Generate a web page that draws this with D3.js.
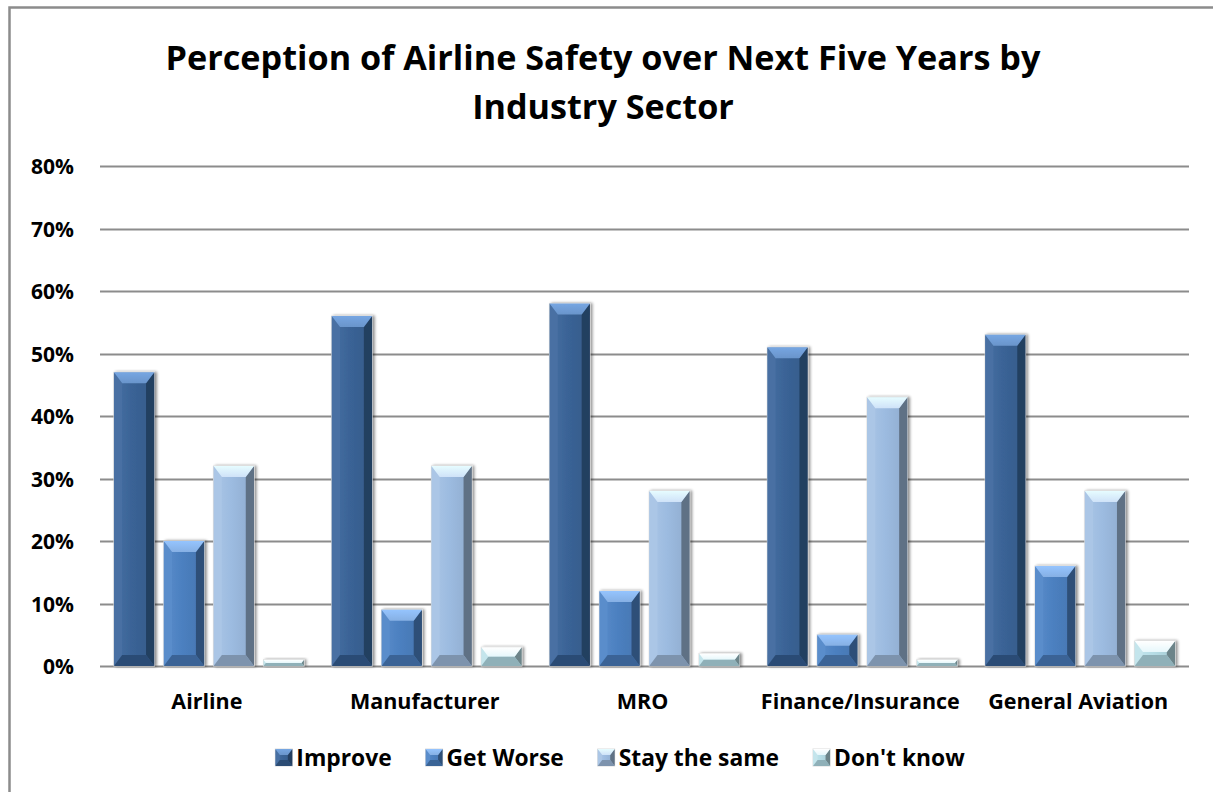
<!DOCTYPE html>
<html>
<head>
<meta charset="utf-8">
<script src="https://cdnjs.cloudflare.com/ajax/libs/d3/7.8.5/d3.min.js"></script>
<style>
  html, body { margin: 0; padding: 0; background: #fff; }
  svg { display: block; }
  text { font-family: "Open Sans", "Noto Sans", sans-serif; font-weight: bold; fill: #000; }
</style>
</head>
<body>
<svg id="chart" width="1213" height="792"></svg>
<script>
// Survey results by industry sector (percent of respondents)
const categories = ["Airline", "Manufacturer", "MRO", "Finance/Insurance", "General Aviation"];
const seriesNames = ["Improve", "Get Worse", "Stay the same", "Don't know"];
const improve   = [47, 56, 58, 51, 53];
const getWorse  = [20, 9, 12, 5, 16];
const staySame  = [32, 32, 28, 43, 28];
const dontKnow  = [1, 3, 2, 1, 4];
const yTicks = [0, 10, 20, 30, 40, 50, 60, 70, 80];
const titleLines = ["Perception of Airline Safety over Next Five Years by", "Industry Sector"];

const seriesValues = [improve, getWorse, staySame, dontKnow];
// face, top highlight, bottom shade, left edge, right edge
const palette = [
  { face: "#3a6396", top: "#6a95cb", bottom: "#2c4c74", left: "#4870a3", right: "#243f61" },
  { face: "#4c80c0", top: "#86b0e4", bottom: "#3a6496", left: "#5a8dcb", right: "#2f5078" },
  { face: "#9cbbe0", top: "#cfe2f8", bottom: "#7d93ad", left: "#abc6e6", right: "#5f7185" },
  { face: "#b6dde6", top: "#e6f7fb", bottom: "#8fb0b8", left: "#c4e5ec", right: "#6c8489" }
];

const svg = d3.select("#chart");
const W = 1213, H = 792;
const plot = { left: 100, right: 1189, top: 166, bottom: 666 };

// outer frame
svg.append("rect")
  .attr("x", 9.5).attr("y", 7.5)
  .attr("width", W).attr("height", H)
  .attr("fill", "#fff").attr("stroke", "#8c8c8c").attr("stroke-width", 2.5);

// title
svg.append("text")
  .attr("x", 603).attr("text-anchor", "middle")
  .style("font-size", "34.2px")
  .selectAll("tspan").data(titleLines).join("tspan")
  .attr("x", 603)
  .attr("y", (d, i) => 70 + i * 49)
  .text(d => d);

const y = d3.scaleLinear().domain([0, 80]).range([plot.bottom, plot.top]);
const x0 = d3.scaleBand().domain(categories).range([plot.left, plot.right]).paddingInner(0).paddingOuter(0);
const groupPad = x0.bandwidth() * 0.064;
const x1 = d3.scaleBand().domain(seriesNames)
  .range([groupPad, x0.bandwidth() - groupPad]).paddingInner(0.19).paddingOuter(0);

// gridlines
const grid = svg.append("g");
grid.selectAll("line").data(yTicks).join("line")
  .attr("x1", plot.left).attr("x2", plot.right)
  .attr("y1", d => Math.round(y(d)) + 0.5).attr("y2", d => Math.round(y(d)) + 0.5)
  .attr("stroke", "#8c8c8c").attr("stroke-width", 2);

const labelStyle = (sel, size) => sel.style("font-size", size)
  .style("font-family", "'Open Sans', 'Noto Sans', sans-serif")
  .style("font-weight", "bold").attr("fill", "#000");

// y axis labels
const yAxis = d3.axisLeft(y).tickValues(yTicks).tickSize(0).tickPadding(0)
  .tickFormat(d => d + "%");
svg.append("g").attr("transform", `translate(74,0)`).call(yAxis)
  .call(g => g.select(".domain").remove())
  .call(g => labelStyle(g.selectAll("text"), "21px").attr("dy", "0.36em"));

// category labels
const xAxis = d3.axisBottom(x0).tickSize(0).tickPadding(0);
svg.append("g").attr("transform", `translate(-2,709)`).call(xAxis)
  .call(g => g.select(".domain").remove())
  .call(g => labelStyle(g.selectAll("text"), "21.5px").attr("dy", 0));

// shadow filter
const defs = svg.append("defs");
const f = defs.append("filter").attr("id", "shadow").attr("x", "-30%").attr("y", "-30%").attr("width", "160%").attr("height", "160%");
f.append("feGaussianBlur").attr("in", "SourceAlpha").attr("stdDeviation", 1.6).attr("result", "b");
f.append("feOffset").attr("in", "b").attr("dx", 1.5).attr("dy", 0).attr("result", "o");
f.append("feComponentTransfer").attr("in", "o").attr("result", "s")
  .append("feFuncA").attr("type", "linear").attr("slope", 0.45);
const m = f.append("feMerge");
m.append("feMergeNode").attr("in", "s");
m.append("feMergeNode").attr("in", "SourceGraphic");

// gradients for the top bevel and the face
palette.forEach((p, i) => {
  const g = defs.append("linearGradient").attr("id", "topg" + i).attr("x1", 0).attr("y1", 0).attr("x2", 0).attr("y2", 1);
  g.append("stop").attr("offset", "0%").attr("stop-color", d3.color(p.top).brighter(0.3));
  g.append("stop").attr("offset", "100%").attr("stop-color", p.top);
  const h = defs.append("linearGradient").attr("id", "faceg" + i).attr("x1", 0).attr("y1", 0).attr("x2", 1).attr("y2", 0);
  h.append("stop").attr("offset", "0%").attr("stop-color", p.left);
  h.append("stop").attr("offset", "45%").attr("stop-color", p.face);
  h.append("stop").attr("offset", "100%").attr("stop-color", d3.color(p.face).darker(0.25));
});

// draws a bevelled column into group g
function bevelBar(g, bx, by, bw, bh, si, bevel) {
  const p = palette[si];
  const b = Math.min(bevel, bh / 2, bw / 2);
  const sb = Math.min(b * 0.75, bw / 2);
  const x2 = bx + bw, y2 = by + bh;
  const poly = pts => pts.map(q => q.join(",")).join(" ");
  g.append("rect").attr("x", bx).attr("y", by).attr("width", bw).attr("height", bh)
    .attr("fill", `url(#faceg${si})`).attr("stroke", "#dcdcdc").attr("stroke-width", 1);
  g.append("polygon").attr("points", poly([[bx, by], [bx + sb, by + b], [bx + sb, y2 - b], [bx, y2]])).attr("fill", p.left);
  g.append("polygon").attr("points", poly([[x2, by], [x2 - sb, by + b], [x2 - sb, y2 - b], [x2, y2]])).attr("fill", p.right);
  g.append("polygon").attr("points", poly([[bx, by], [x2, by], [x2 - sb, by + b], [bx + sb, by + b]])).attr("fill", `url(#topg${si})`);
  g.append("polygon").attr("points", poly([[bx, y2], [x2, y2], [x2 - sb, y2 - b], [bx + sb, y2 - b]])).attr("fill", p.bottom);
}

// bars
const barsG = svg.append("g");
categories.forEach((cat, ci) => {
  seriesNames.forEach((s, si) => {
    const v = seriesValues[si][ci];
    const bx = x0(cat) + x1(s);
    const by = y(v);
    const bh = y(0) - y(v);
    const g = barsG.append("g").attr("filter", "url(#shadow)");
    bevelBar(g, bx, by, x1.bandwidth(), bh, si, 11);
  });
});

// legend, laid out from the text widths and centred under the plot
const legendG = svg.append("g");
let cursor = 0;
seriesNames.forEach((name, i) => {
  const g = legendG.append("g");
  bevelBar(g, cursor, 749, 17, 17, i, 6);
  const t = g.append("text").attr("x", cursor + 21).attr("y", 766).style("font-size", "22.8px").text(name);
  const w = t.node().getComputedTextLength();
  cursor = cursor + 21 + w + (i < seriesNames.length - 1 ? 34 : 0);
});
legendG.attr("transform", `translate(${620 - cursor / 2},0)`);
</script>
</body>
</html>
